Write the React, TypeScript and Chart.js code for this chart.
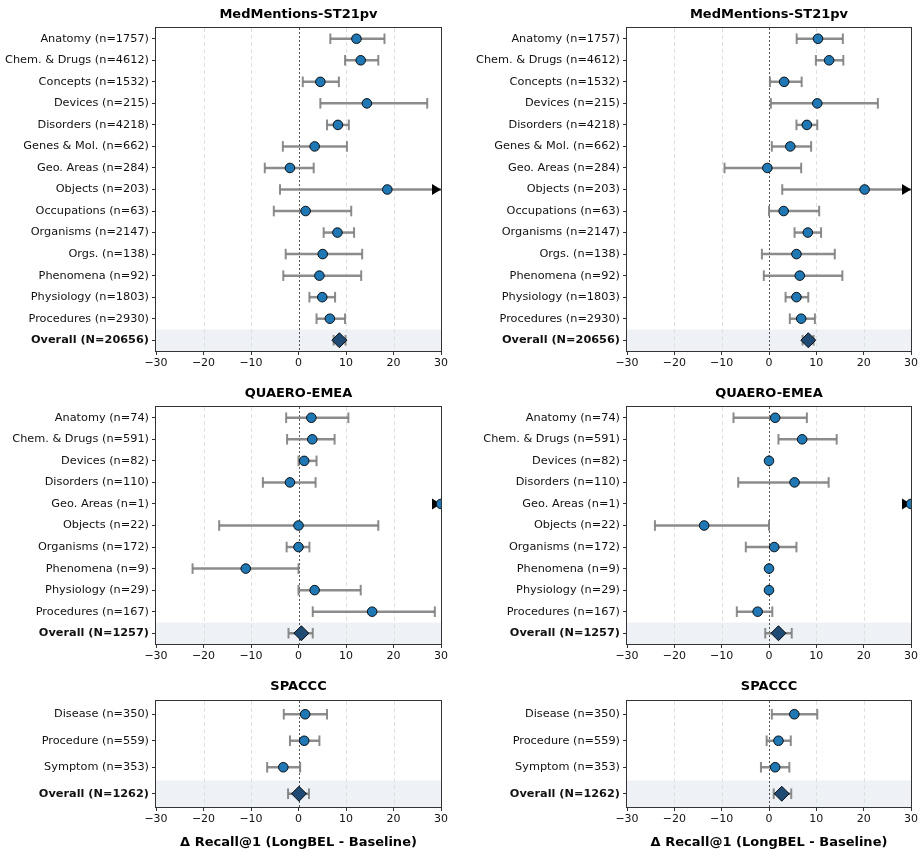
import React, { useEffect, useRef } from "react";
import { Chart, registerables } from "chart.js";

Chart.register(...registerables);
const FONT_FAMILY = "'DejaVu Sans', 'Liberation Sans', sans-serif";
Chart.defaults.font.family = FONT_FAMILY;

// ---- shared axis settings ----
const X_MIN = -30;
const X_MAX = 30;
const X_TICKS = [-30, -20, -10, 0, 10, 20, 30];
const X_TITLE = "Δ Recall@1 (LongBEL - Baseline)";

// ---- MedMentions-ST21pv ----
const mmCategories = [
  "Anatomy (n=1757)",
  "Chem. & Drugs (n=4612)",
  "Concepts (n=1532)",
  "Devices (n=215)",
  "Disorders (n=4218)",
  "Genes & Mol. (n=662)",
  "Geo. Areas (n=284)",
  "Objects (n=203)",
  "Occupations (n=63)",
  "Organisms (n=2147)",
  "Orgs. (n=138)",
  "Phenomena (n=92)",
  "Physiology (n=1803)",
  "Procedures (n=2930)",
  "Overall (N=20656)",
];
const mmLeftMean = [12.2, 13.1, 4.6, 14.4, 8.3, 3.4, -1.8, 18.7, 1.5, 8.2, 5.1, 4.4, 5.0, 6.6, 8.6];
const mmLeftLow = [6.7, 9.8, 0.9, 4.6, 6.0, -3.3, -7.1, -3.9, -5.2, 5.3, -2.7, -3.2, 2.3, 3.8, 7.4];
const mmLeftHigh = [18.1, 16.8, 8.5, 27.1, 10.6, 10.2, 3.2, 30, 11.1, 11.7, 13.4, 13.2, 7.7, 9.8, 9.9];

const mmRightMean = [10.35, 12.7, 3.2, 10.2, 8.0, 4.5, -0.35, 20.2, 3.1, 8.2, 5.8, 6.5, 5.8, 6.8, 8.3];
const mmRightLow = [5.85, 9.9, 0.2, 0.4, 5.8, 0.6, -9.4, 2.8, 0.0, 5.4, -1.5, -1.1, 3.5, 4.4, 7.1];
const mmRightHigh = [15.6, 15.7, 6.9, 23.0, 10.2, 8.9, 6.8, 30, 10.6, 11.0, 13.9, 15.5, 8.3, 9.7, 9.4];

// ---- QUAERO-EMEA ----
const quaeroCategories = [
  "Anatomy (n=74)",
  "Chem. & Drugs (n=591)",
  "Devices (n=82)",
  "Disorders (n=110)",
  "Geo. Areas (n=1)",
  "Objects (n=22)",
  "Organisms (n=172)",
  "Phenomena (n=9)",
  "Physiology (n=29)",
  "Procedures (n=167)",
  "Overall (N=1257)",
];
const quaeroLeftMean = [2.7, 2.9, 1.2, -1.8, 30, 0.0, 0.0, -11.1, 3.4, 15.5, 0.6];
const quaeroLeftLow = [-2.6, -2.4, 0.0, -7.5, 30, -16.7, -2.5, -22.3, 0.0, 3.0, -2.1];
const quaeroLeftHigh = [10.5, 7.6, 3.8, 3.6, 30, 16.8, 2.3, 0.0, 13.1, 28.7, 3.0];

const quaeroRightMean = [1.3, 7.0, 0.0, 5.4, 30, -13.7, 1.1, 0.0, 0.0, -2.4, 2.0];
const quaeroRightLow = [-7.5, 2.0, 0.0, -6.5, 30, -24.1, -4.9, 0.0, 0.0, -6.8, -0.8];
const quaeroRightHigh = [8.0, 14.3, 0.0, 12.6, 30, 0.0, 5.8, 0.0, 0.0, 0.7, 4.8];

// ---- SPACCC ----
const spacccCategories = ["Disease (n=350)", "Procedure (n=559)", "Symptom (n=353)", "Overall (N=1262)"];
const spacccLeftMean = [1.4, 1.2, -3.2, 0.1];
const spacccLeftLow = [-3.1, -1.8, -6.6, -2.2];
const spacccLeftHigh = [6.0, 4.4, 0.35, 2.2];

const spacccRightMean = [5.35, 2.0, 1.3, 2.7];
const spacccRightLow = [0.6, -0.5, -1.7, 1.0];
const spacccRightHigh = [10.2, 4.6, 4.3, 4.7];

type Panel = {
  title: string;
  categories: string[];
  mean: number[];
  low: number[];
  high: number[];
  left: number;
  top: number;
  width: number;
  height: number;
  axisWidth: number;
  padRight: number;
  padTop: number;
  titleGap: number;
  xAxisHeight: number;
  xTitle: boolean;
};

const LEFT_COL = { left: 0, width: 450, axisWidth: 156, padRight: 9 };
const RIGHT_COL = { left: 462, width: 462, axisWidth: 165, padRight: 13 };
const ROW1 = { top: 0, height: 373, padTop: 28, titleGap: 10, xAxisHeight: 22, xTitle: false };
const ROW2 = { top: 380, height: 286, padTop: 27, titleGap: 10, xAxisHeight: 22, xTitle: false };
const ROW3 = { top: 674, height: 182, padTop: 27, titleGap: 11.5, xAxisHeight: 49, xTitle: true };

const panels: Panel[] = [
  { title: "MedMentions-ST21pv", categories: mmCategories, mean: mmLeftMean, low: mmLeftLow, high: mmLeftHigh, ...LEFT_COL, ...ROW1 },
  { title: "MedMentions-ST21pv", categories: mmCategories, mean: mmRightMean, low: mmRightLow, high: mmRightHigh, ...RIGHT_COL, ...ROW1 },
  { title: "QUAERO-EMEA", categories: quaeroCategories, mean: quaeroLeftMean, low: quaeroLeftLow, high: quaeroLeftHigh, ...LEFT_COL, ...ROW2 },
  { title: "QUAERO-EMEA", categories: quaeroCategories, mean: quaeroRightMean, low: quaeroRightLow, high: quaeroRightHigh, ...RIGHT_COL, ...ROW2 },
  { title: "SPACCC", categories: spacccCategories, mean: spacccLeftMean, low: spacccLeftLow, high: spacccLeftHigh, ...LEFT_COL, ...ROW3 },
  { title: "SPACCC", categories: spacccCategories, mean: spacccRightMean, low: spacccRightLow, high: spacccRightHigh, ...RIGHT_COL, ...ROW3 },
];

const fmtTick = (v: number) => (v < 0 ? "\u2212" + Math.abs(v) : String(v));

// Draws the overall band, grid, zero line, error bars, clip arrows, frame and panel title.
function makeForestPlugin(p: Panel) {
  const n = p.categories.length;
  return {
    id: "forest",
    beforeDatasetsDraw(chart: any) {
      const { ctx, chartArea: a } = chart;
      const x = chart.scales.x;
      const y = chart.scales.y;
      ctx.save();
      ctx.beginPath();
      ctx.rect(a.left, a.top, a.right - a.left, a.bottom - a.top);
      ctx.clip();

      // shaded overall row
      const yb0 = y.getPixelForValue(n - 1.5);
      const yb1 = y.getPixelForValue(n - 0.5);
      ctx.fillStyle = "#eef2f6";
      ctx.fillRect(a.left, yb0, a.right - a.left, yb1 - yb0);

      // vertical grid
      ctx.lineWidth = 0.8;
      ctx.strokeStyle = "#d9d9d9";
      ctx.setLineDash([4, 3]);
      for (const t of X_TICKS) {
        if (t === X_MIN || t === X_MAX || t === 0) continue;
        const px = Math.round(x.getPixelForValue(t)) + 0.5;
        ctx.beginPath();
        ctx.moveTo(px, a.top);
        ctx.lineTo(px, a.bottom);
        ctx.stroke();
      }

      // zero reference
      ctx.strokeStyle = "#444";
      ctx.lineWidth = 0.9;
      ctx.setLineDash([2, 2]);
      const z = Math.round(x.getPixelForValue(0)) + 0.5;
      ctx.beginPath();
      ctx.moveTo(z, a.top);
      ctx.lineTo(z, a.bottom);
      ctx.stroke();
      ctx.setLineDash([]);

      // error bars
      ctx.strokeStyle = "rgba(128,128,128,0.9)";
      for (let i = 0; i < n; i++) {
        const yc = y.getPixelForValue(i);
        const lo = p.low[i];
        const hi = p.high[i];
        const pxLo = x.getPixelForValue(Math.max(lo, X_MIN));
        const pxHi = x.getPixelForValue(Math.min(hi, X_MAX));
        ctx.lineWidth = 2.5;
        ctx.beginPath();
        ctx.moveTo(pxLo, yc);
        ctx.lineTo(pxHi, yc);
        ctx.stroke();
        ctx.lineWidth = 2;
        const cap = 5.3;
        for (const [v, px] of [[lo, pxLo], [hi, pxHi]]) {
          if (v <= X_MIN || v >= X_MAX) continue;
          ctx.beginPath();
          ctx.moveTo(px, yc - cap);
          ctx.lineTo(px, yc + cap);
          ctx.stroke();
        }
      }
      ctx.restore();

      // arrows where the interval runs past the axis limit
      ctx.save();
      ctx.fillStyle = "#000";
      for (let i = 0; i < n; i++) {
        if (p.high[i] < X_MAX) continue;
        const yc = y.getPixelForValue(i);
        const tip = x.getPixelForValue(X_MAX);
        ctx.beginPath();
        ctx.moveTo(tip, yc);
        ctx.lineTo(tip - 9, yc - 5.5);
        ctx.lineTo(tip - 9, yc + 5.5);
        ctx.closePath();
        ctx.fill();
      }
      ctx.restore();
    },
    afterDraw(chart: any) {
      const { ctx, chartArea: a } = chart;
      ctx.save();
      ctx.strokeStyle = "#333";
      ctx.lineWidth = 1;
      const l = Math.round(a.left) - 0.5;
      const t = Math.round(a.top) - 0.5;
      const r = Math.round(a.right) + 0.5;
      const b = Math.round(a.bottom) + 0.5;
      ctx.strokeRect(l, t, r - l, b - t);

      // panel title, centred over the plotting area
      ctx.fillStyle = "#000";
      ctx.font = `bold 13px ${FONT_FAMILY}`;
      ctx.textAlign = "center";
      ctx.textBaseline = "alphabetic";
      ctx.fillText(p.title, (a.left + a.right) / 2, a.top - p.titleGap);
      ctx.restore();
    },
  };
}

function ForestPanel({ panel }: { panel: Panel }) {
  const ref = useRef<HTMLCanvasElement>(null);

  useEffect(() => {
    const p = panel;
    const n = p.categories.length;
    const rows = p.categories.slice(0, n - 1).map((_, i) => ({ x: p.mean[i], y: i }));
    const chart = new Chart(ref.current as HTMLCanvasElement, {
      type: "scatter",
      data: {
        datasets: [
          {
            data: rows,
            pointStyle: "circle",
            pointRadius: 4.8,
            pointBackgroundColor: "#1f77b4",
            pointBorderColor: "#000",
            pointBorderWidth: 0.9,
          },
          {
            data: [{ x: p.mean[n - 1], y: n - 1 }],
            pointStyle: "rectRot",
            pointRadius: 7.5,
            pointBackgroundColor: "#1f4a73",
            pointBorderColor: "#000",
            pointBorderWidth: 0.9,
          },
        ],
      },
      options: {
        responsive: false,
        animation: false,
        events: [],
        layout: { padding: { left: 0, right: p.padRight, top: p.padTop, bottom: 0 } },
        plugins: {
          legend: { display: false },
          tooltip: { enabled: false },
          title: { display: false },
        },
        scales: {
          x: {
            type: "linear",
            min: X_MIN,
            max: X_MAX,
            afterBuildTicks: (s: any) => {
              s.ticks = X_TICKS.map((v) => ({ value: v }));
            },
            afterFit: (s: any) => {
              s.height = p.xAxisHeight;
            },
            ticks: {
              callback: (v: any) => fmtTick(Number(v)),
              color: "#111",
              font: { size: 11 },
              padding: 2,
              maxRotation: 0,
              autoSkip: false,
            },
            grid: { drawOnChartArea: false, drawTicks: true, tickLength: 4, color: "#333" },
            border: { display: false },
            title: {
              display: p.xTitle,
              text: X_TITLE,
              color: "#000",
              font: { size: 13, weight: "bold" },
              padding: { top: 4, bottom: 6 },
            },
          },
          y: {
            type: "linear",
            reverse: true,
            min: -0.5,
            max: n - 0.5,
            afterBuildTicks: (s: any) => {
              s.ticks = p.categories.map((_, i) => ({ value: i }));
            },
            afterFit: (s: any) => {
              s.width = p.axisWidth;
            },
            ticks: {
              callback: (v: any) => p.categories[Number(v)] ?? "",
              color: "#111",
              autoSkip: false,
              padding: 3,
              font: (c: any) => ({
                size: 11.3,
                weight: c.tick && c.tick.value === n - 1 ? "bold" : "normal",
              }),
            },
            grid: { drawOnChartArea: false, drawTicks: true, tickLength: 4, color: "#333" },
            border: { display: false },
          },
        },
      },
      plugins: [makeForestPlugin(p)],
    } as any);
    return () => chart.destroy();
  }, [panel]);

  return (
    <canvas
      ref={ref}
      width={panel.width}
      height={panel.height}
      style={{
        position: "absolute",
        left: panel.left,
        top: panel.top,
        width: panel.width,
        height: panel.height,
      }}
    />
  );
}

export default function App() {
  return (
    <div
      style={{
        position: "fixed",
        left: 0,
        top: 0,
        width: 924,
        height: 856,
        background: "#fff",
        overflow: "hidden",
      }}
    >
      {panels.map((p, i) => (
        <ForestPanel key={i} panel={p} />
      ))}
    </div>
  );
}
